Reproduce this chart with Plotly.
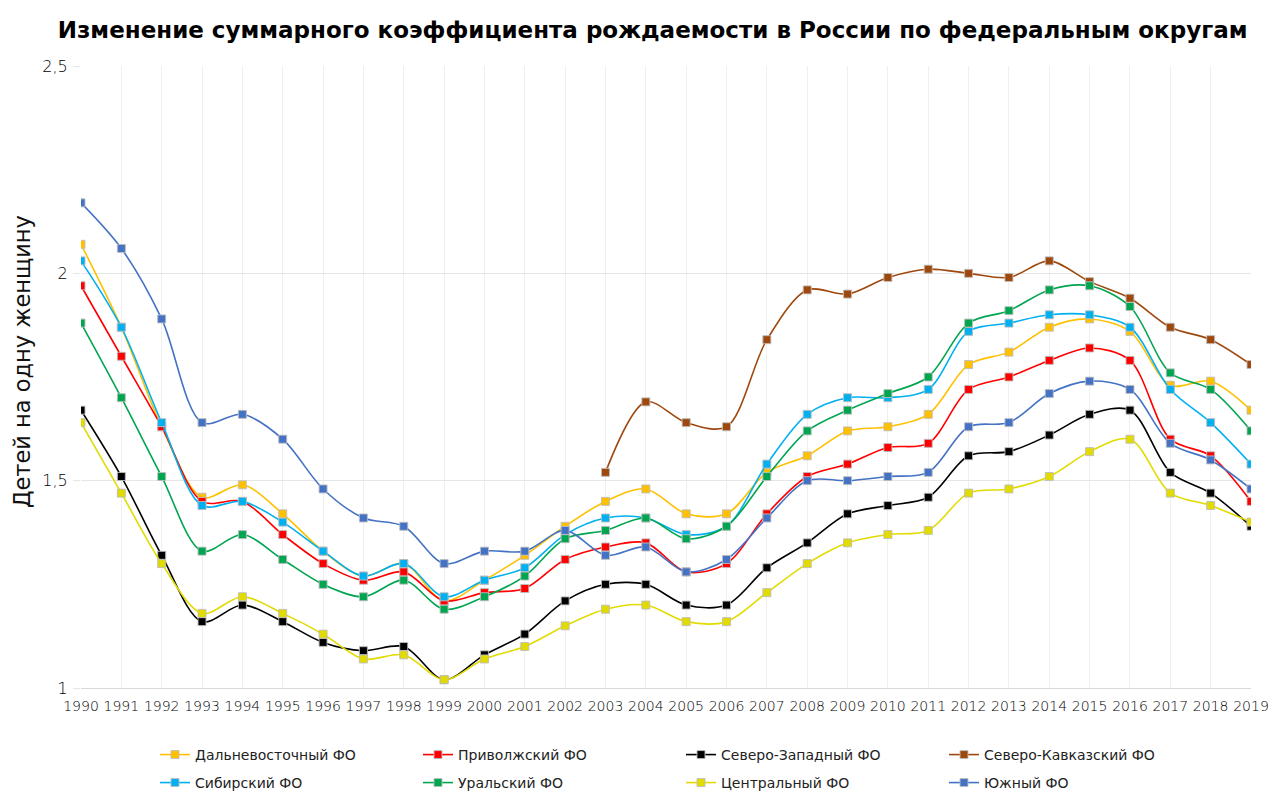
#!/usr/bin/env python3
import plotly.graph_objects as go

# Total fertility rate by federal district, 1990-2019
years = list(range(1990, 2020))

dalnevostochny = [2.07, 1.87, 1.63, 1.46, 1.49, 1.42, 1.33, 1.27, 1.30, 1.21,
                  1.26, 1.32, 1.39, 1.45, 1.48, 1.42, 1.42, 1.52, 1.56, 1.62,
                  1.63, 1.66, 1.78, 1.81, 1.87, 1.89, 1.86, 1.73, 1.74, 1.67]
privolzhsky = [1.97, 1.80, 1.63, 1.45, 1.45, 1.37, 1.30, 1.26, 1.28, 1.21,
               1.23, 1.24, 1.31, 1.34, 1.35, 1.28, 1.30, 1.42, 1.51, 1.54,
               1.58, 1.59, 1.72, 1.75, 1.79, 1.82, 1.79, 1.60, 1.56, 1.45]
severo_zapadny = [1.67, 1.51, 1.32, 1.16, 1.20, 1.16, 1.11, 1.09, 1.10, 1.02,
                  1.08, 1.13, 1.21, 1.25, 1.25, 1.20, 1.20, 1.29, 1.35, 1.42,
                  1.44, 1.46, 1.56, 1.57, 1.61, 1.66, 1.67, 1.52, 1.47, 1.39]
# series starts in 2003
severo_kavkazsky = [None] * 13 + [1.52, 1.69, 1.64, 1.63, 1.84, 1.96, 1.95,
                                  1.99, 2.01, 2.00, 1.99, 2.03, 1.98, 1.94,
                                  1.87, 1.84, 1.78]
sibirsky = [2.03, 1.87, 1.64, 1.44, 1.45, 1.40, 1.33, 1.27, 1.30, 1.22,
            1.26, 1.29, 1.37, 1.41, 1.41, 1.37, 1.39, 1.54, 1.66, 1.70,
            1.70, 1.72, 1.86, 1.88, 1.90, 1.90, 1.87, 1.72, 1.64, 1.54]
uralsky = [1.88, 1.70, 1.51, 1.33, 1.37, 1.31, 1.25, 1.22, 1.26, 1.19,
           1.22, 1.27, 1.36, 1.38, 1.41, 1.36, 1.39, 1.51, 1.62, 1.67,
           1.71, 1.75, 1.88, 1.91, 1.96, 1.97, 1.92, 1.76, 1.72, 1.62]
centralny = [1.64, 1.47, 1.30, 1.18, 1.22, 1.18, 1.13, 1.07, 1.08, 1.02,
             1.07, 1.10, 1.15, 1.19, 1.20, 1.16, 1.16, 1.23, 1.30, 1.35,
             1.37, 1.38, 1.47, 1.48, 1.51, 1.57, 1.60, 1.47, 1.44, 1.40]
yuzhny = [2.17, 2.06, 1.89, 1.64, 1.66, 1.60, 1.48, 1.41, 1.39, 1.30,
          1.33, 1.33, 1.38, 1.32, 1.34, 1.28, 1.31, 1.41, 1.50, 1.50,
          1.51, 1.52, 1.63, 1.64, 1.71, 1.74, 1.72, 1.59, 1.55, 1.48]

districts = [
    ("Дальневосточный ФО", dalnevostochny, "#FFC000"),
    ("Приволжский ФО", privolzhsky, "#FF0000"),
    ("Северо-Западный ФО", severo_zapadny, "#000000"),
    ("Северо-Кавказский ФО", severo_kavkazsky, "#9E480E"),
    ("Сибирский ФО", sibirsky, "#00B0F0"),
    ("Уральский ФО", uralsky, "#00A550"),
    ("Центральный ФО", centralny, "#E2DB00"),
    ("Южный ФО", yuzhny, "#4472C4"),
]

FONT = "DejaVu Sans"

fig = go.Figure()
for i, (name, values, color) in enumerate(districts):
    # two legend rows: first four districts on top, the rest below
    fig.add_trace(go.Scatter(
        x=years,
        y=values,
        name=name,
        legend="legend" if i < 4 else "legend2",
        mode="lines+markers",
        line=dict(color=color, width=1.6, shape="spline", smoothing=0.9),
        marker=dict(symbol="square", size=8, color=color,
                    line=dict(color="rgba(190,190,190,0.9)", width=1)),
    ))

legend_common = dict(
    orientation="h",
    xref="container", x=0.1163, xanchor="left",
    yref="container", yanchor="middle",
    entrywidth=218,
    font=dict(family=FONT, size=14, color="#222"),
    itemwidth=30,
    bgcolor="rgba(0,0,0,0)",
)

fig.update_layout(
    width=1264, height=795,
    paper_bgcolor="white",
    plot_bgcolor="white",
    separators=", ",
    font=dict(family=FONT, color="#222"),
    title=dict(
        text="<b>Изменение суммарного коэффициента рождаемости в России по федеральным округам</b>",
        x=0.510, xanchor="center", y=0.972, yanchor="middle",
        font=dict(family=FONT, size=23, color="black"),
        automargin=False,
    ),
    margin=dict(l=73, r=21, t=58, b=115, autoexpand=False),
    xaxis=dict(
        range=[1990, 2019],
        tickmode="array", tickvals=years, ticktext=[str(y) for y in years],
        tickfont=dict(size=14, color="#000", weight=300),
        ticklabelstandoff=5,
        showgrid=True, gridcolor="#EFEFEF", gridwidth=1,
        showline=True, linecolor="#D9D9D9", linewidth=1,
        zeroline=False, ticks="", automargin=False,
    ),
    yaxis=dict(
        range=[1, 2.5],
        tickvals=[1, 1.5, 2, 2.5],
        tickfont=dict(size=16, color="#000", weight=300),
        ticks="outside", ticklen=7, tickcolor="#E6E6E6", tickwidth=1,
        ticklabelstandoff=2,
        showgrid=True, gridcolor="#E6E6E6", gridwidth=1,
        zeroline=False, showline=False, automargin=False,
    ),
    annotations=[dict(
        text="Детей на одну женщину",
        xref="paper", yref="paper", x=-0.0504, y=0.524,
        xanchor="center", yanchor="middle", textangle=-90,
        showarrow=False, font=dict(family=FONT, size=22.5, color="#111"),
    )],
    legend=dict(legend_common, y=0.0604),
    legend2=dict(legend_common, y=0.0252),
    showlegend=True,
)

fig.write_html("out.html")
